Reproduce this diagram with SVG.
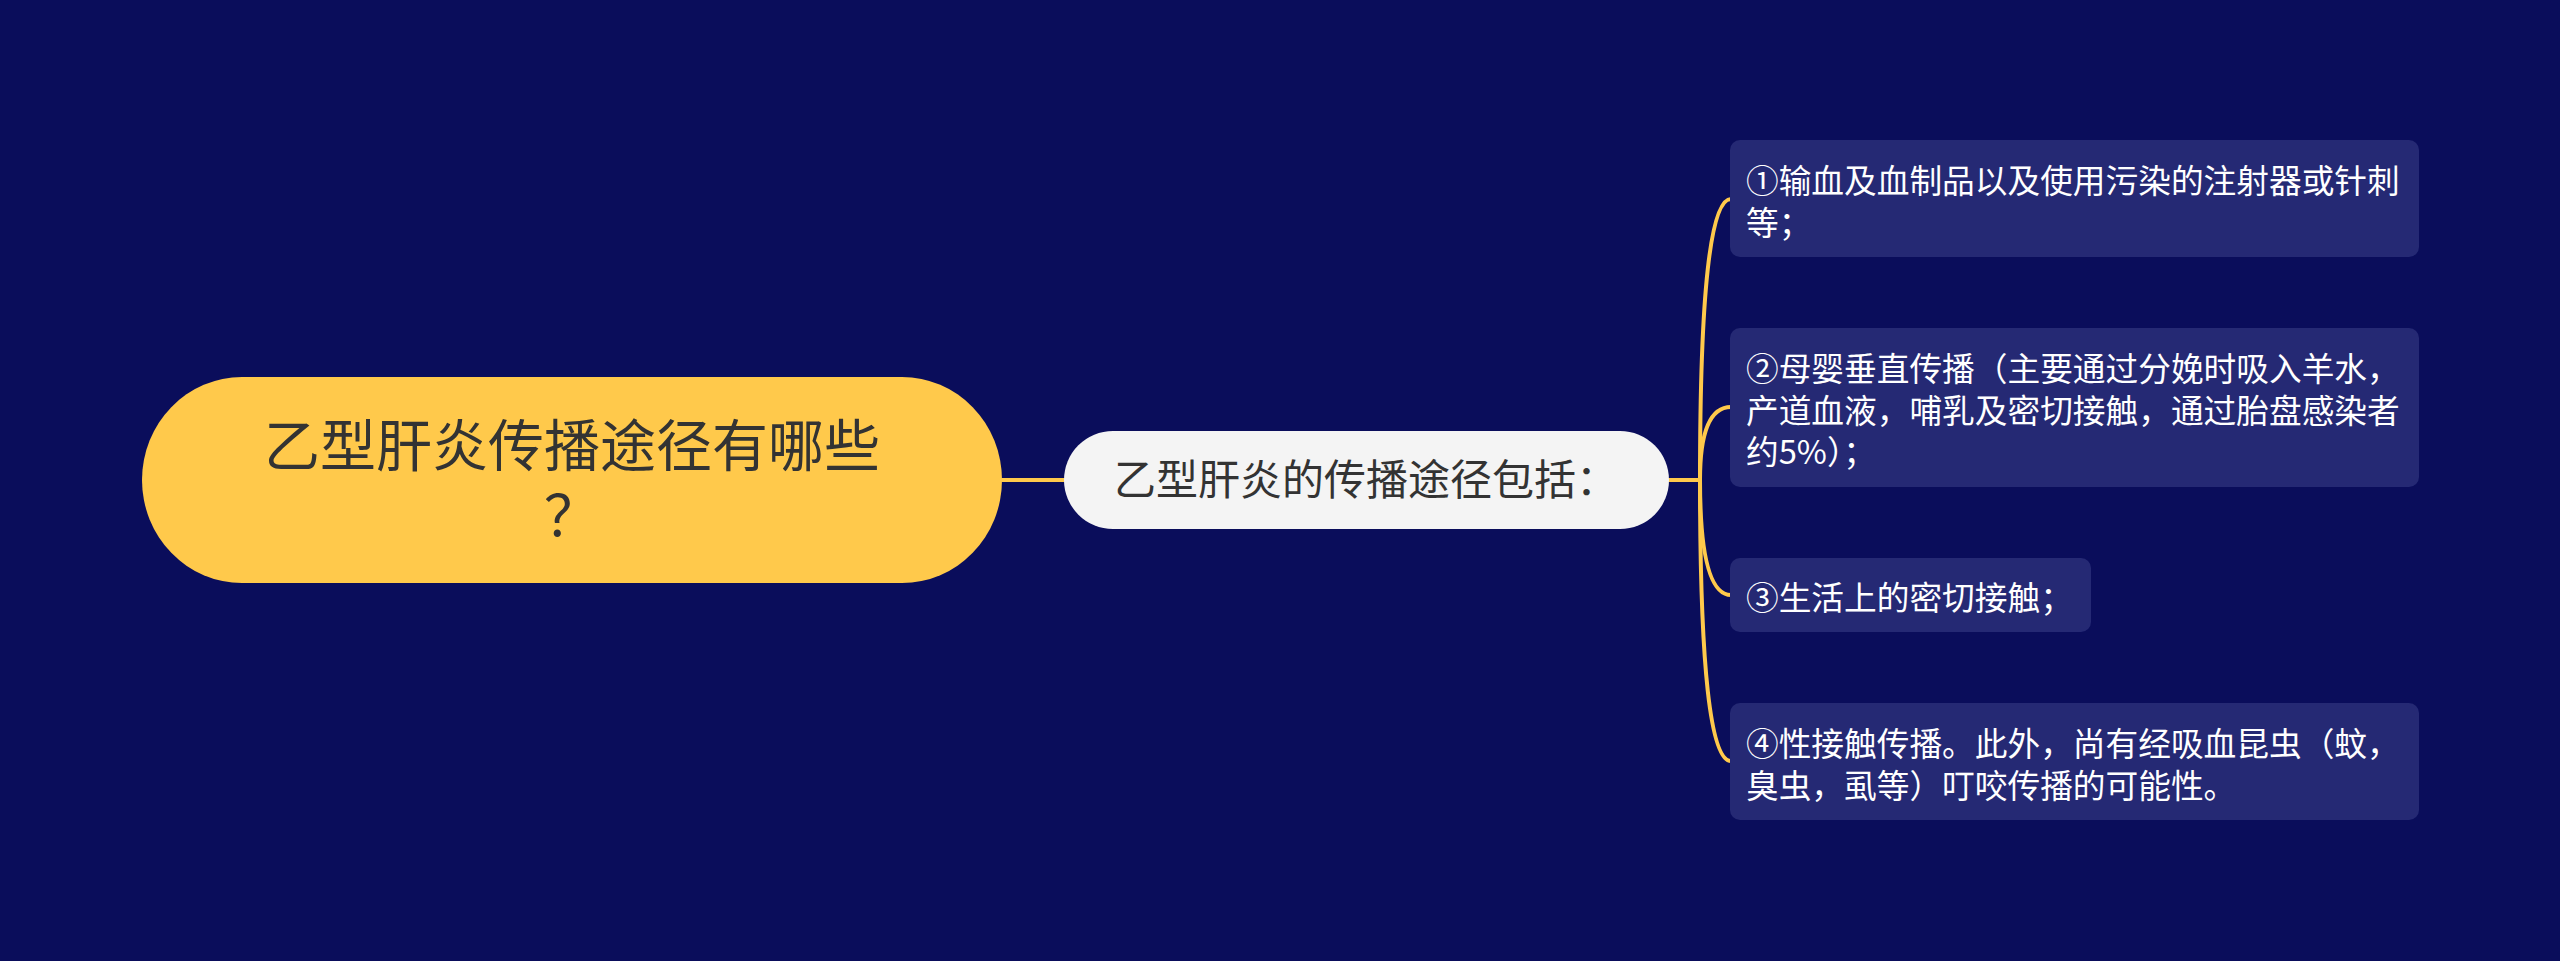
<svg xmlns="http://www.w3.org/2000/svg" width="2560" height="961" viewBox="0 0 2560 961">
<style>
  .bg { fill: #0a0d5b; }
  .root { fill: #ffc94b; }
  .mid { fill: #f4f4f4; }
  .leaf { fill: #252974; }
  .t { font-family: "Noto Sans CJK SC", "Noto Sans", sans-serif; }
  .rt { font-size: 56px; fill: #333333; }
  .mt { font-size: 42px; fill: #333333; }
  .lt { font-size: 32.7px; fill: #ffffff; }
  .conn { fill: none; stroke: #ffc94b; stroke-width: 4; stroke-linecap: round; }
</style>
<rect class="bg" x="0" y="0" width="2560" height="961"/>
<g id="connectors">
  <path class="conn" d="M1002 480 L1064 480"/>
  <path class="conn" d="M1669 480 L1700 480"/>
  <path class="conn" d="M1700 480 Q1700 199 1731 199"/>
  <path class="conn" d="M1700 480 Q1700 407 1731 407"/>
  <path class="conn" d="M1700 480 Q1700 595 1731 595"/>
  <path class="conn" d="M1700 480 Q1700 761 1731 761"/>
</g>
<g id="root">
  <rect class="root" x="142" y="377" width="860" height="206" rx="100" ry="103"/>
  <text class="t rt" x="572" y="466" text-anchor="middle">乙型肝炎传播途径有哪些</text>
  <text class="t rt" x="572" y="536" text-anchor="middle">？</text>
</g>
<g id="middle">
  <rect class="mid" x="1064" y="431" width="605" height="98" rx="49" ry="49"/>
  <text class="t mt" x="1366" y="495" text-anchor="middle">乙型肝炎的传播途径包括：</text>
</g>
<g id="leaf1">
  <rect class="leaf" x="1730" y="140" width="689" height="117" rx="10" ry="10"/>
  <text class="t lt" x="1746" y="193">①输血及血制品以及使用污染的注射器或针刺</text>
  <text class="t lt" x="1746" y="234.5">等；</text>
</g>
<g id="leaf2">
  <rect class="leaf" x="1730" y="328" width="689" height="159" rx="10" ry="10"/>
  <text class="t lt" x="1746" y="381">②母婴垂直传播（主要通过分娩时吸入羊水，</text>
  <text class="t lt" x="1746" y="422.5">产道血液，哺乳及密切接触，通过胎盘感染者</text>
  <text class="t lt" x="1746" y="464">约5%）；</text>
</g>
<g id="leaf3">
  <rect class="leaf" x="1730" y="558" width="361" height="74" rx="10" ry="10"/>
  <text class="t lt" x="1746" y="610">③生活上的密切接触；</text>
</g>
<g id="leaf4">
  <rect class="leaf" x="1730" y="703" width="689" height="117" rx="10" ry="10"/>
  <text class="t lt" x="1746" y="756">④性接触传播。此外，尚有经吸血昆虫（蚊，</text>
  <text class="t lt" x="1746" y="797.5">臭虫，虱等）叮咬传播的可能性。</text>
</g>
</svg>
